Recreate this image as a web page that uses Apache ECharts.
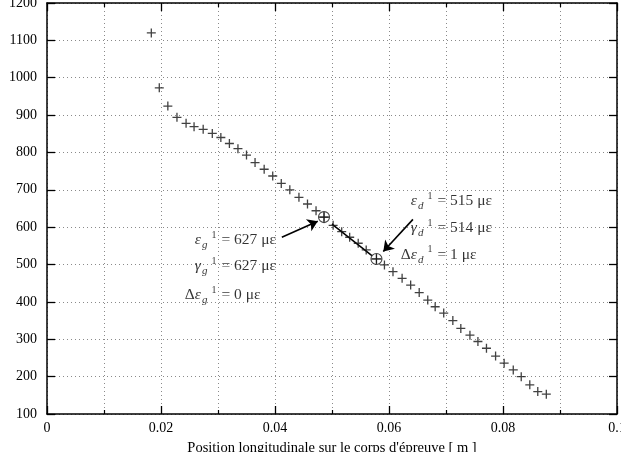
<!DOCTYPE html>
<html>
<head>
<meta charset="utf-8">
<script src="https://cdn.jsdelivr.net/npm/echarts@6/dist/echarts.min.js"></script>
<style>
  html, body { margin: 0; padding: 0; background: #fff; }
  #chart { width: 621px; height: 452px; }
</style>
</head>
<body>
<div id="chart"></div>
<script>
// position along the specimen [m] and measured strain [µε]
const position = [0.0183, 0.0197, 0.0212, 0.0228, 0.0244, 0.0258, 0.0274, 0.0290, 0.0305, 0.0320,
  0.0335, 0.0350, 0.0365, 0.0381, 0.0396, 0.0411, 0.0426, 0.0442, 0.0457, 0.0472,
  0.0486, 0.0502, 0.0517, 0.0531, 0.0546, 0.0560, 0.0578, 0.0592, 0.0607, 0.0623,
  0.0638, 0.0653, 0.0668, 0.0681, 0.0696, 0.0712, 0.0726, 0.0742, 0.0756, 0.0771,
  0.0787, 0.0802, 0.0818, 0.0832, 0.0847, 0.0861, 0.0876];
const strain = [1120, 973, 924, 894, 878, 869, 862, 851, 840, 824,
  810, 793, 773, 755, 737, 717, 700, 680, 662, 644,
  627, 605, 588, 573, 557, 539, 515, 499, 481, 463,
  445, 425, 405, 387, 370, 350, 329, 311, 294, 276,
  255, 236, 218, 200, 178, 160, 153];

// the two circled gauge points
const gaugePos = [0.0486, 0.0578];
const gaugeStrain = [627, 515];

// short segment drawn between the gauges
const segPos = [0.0500, 0.0570];
const segStrain = [608, 524];

// arrows, tail -> head
const arrowFrom = [[0.0412, 573], [0.0642, 621]];
const arrowTo = [[0.0475, 616], [0.0590, 535]];

// annotation lines, anchored at the "=" sign
const annoPos = [[0.0306, 566], [0.0306, 496], [0.0306, 418], [0.0685, 670], [0.0685, 598], [0.0685, 526]];
const annoSym = ['ε', 'γ', 'Δε', 'ε', 'γ', 'Δε'];
const annoSub = ['g', 'g', 'g', 'd', 'd', 'd'];
const annoVal = ['627', '627', '0', '515', '514', '1'];

const FONT = '"Liberation Serif", "DejaVu Serif", serif';
const INK = '#000';
const dotted = { color: '#8a8a8a', width: 1, type: [1, 3] };

const chart = echarts.init(document.getElementById('chart'));

function pairs(xs, ys) {
  return xs.map((x, i) => [x, ys[i]]);
}

const richStyle = {
  b: { fontFamily: FONT, fontSize: 15.5, color: INK },
  bi: { fontFamily: FONT, fontSize: 15.5, color: INK, fontStyle: 'italic' },
  sub: { fontFamily: FONT, fontSize: 11, color: INK, fontStyle: 'italic', padding: [10, 0, 0, 1] },
  sup: { fontFamily: FONT, fontSize: 10, color: INK, padding: [0, 0, 10, 4] }
};

const annoData = annoPos.map((p, i) => ({
  value: p, sym: annoSym[i], sub: annoSub[i], val: annoVal[i]
}));

const xAxisBase = {
  type: 'value',
  min: 0,
  max: 0.1,
  interval: 0.02,
  axisLine: { show: true, onZero: false, lineStyle: { color: INK, width: 1.5 } },
  axisTick: { show: true, inside: true, length: 8, lineStyle: { color: INK, width: 1.3 } },
  minorTick: { show: true, splitNumber: 2, length: 4, lineStyle: { color: INK, width: 1.2 } }
};
const yAxisBase = {
  type: 'value',
  min: 100,
  max: 1200,
  interval: 100,
  axisLine: { show: true, onZero: false, lineStyle: { color: INK, width: 1.5 } },
  axisTick: { show: true, inside: true, length: 8, lineStyle: { color: INK, width: 1.3 } }
};

chart.setOption({
  animation: false,
  backgroundColor: '#fff',
  grid: { left: 47, right: 4, top: 3, bottom: 38, containLabel: false, outerBoundsMode: 'none' },
  xAxis: [
    Object.assign({}, xAxisBase, {
      position: 'bottom',
      axisLabel: { color: INK, fontFamily: FONT, fontSize: 14, margin: 7, formatter: v => String(v) },
      splitLine: { show: true, lineStyle: dotted },
      minorSplitLine: { show: true, lineStyle: dotted },
      name: "Position longitudinale sur le corps d'épreuve [ m ]",
      nameLocation: 'middle',
      nameGap: 27,
      nameTextStyle: { color: INK, fontFamily: FONT, fontSize: 14.5 }
    }),
    Object.assign({}, xAxisBase, {
      position: 'top',
      axisLabel: { show: false },
      splitLine: { show: false }
    })
  ],
  yAxis: [
    Object.assign({}, yAxisBase, {
      position: 'left',
      axisLabel: { color: INK, fontFamily: FONT, fontSize: 14, margin: 10, formatter: v => String(v) },
      splitLine: { show: true, lineStyle: dotted }
    }),
    Object.assign({}, yAxisBase, {
      position: 'right',
      axisLabel: { show: false },
      splitLine: { show: false }
    })
  ],
  series: [
    {
      type: 'line',
      data: pairs(segPos, segStrain),
      showSymbol: false,
      lineStyle: { color: INK, width: 1.5 },
      silent: true,
      z: 3
    },
    {
      type: 'scatter',
      data: pairs(position, strain),
      symbol: 'path://M0,5L10,5M5,0L5,10',
      symbolSize: 9,
      itemStyle: { color: 'rgba(0,0,0,0)', borderColor: '#111', borderWidth: 1.3 },
      silent: true,
      z: 4,
      markLine: {
        silent: true,
        symbol: ['none', 'arrow'],
        symbolSize: 10,
        label: { show: false },
        itemStyle: { color: INK },
        lineStyle: { color: INK, width: 1.6, type: 'solid' },
        emphasis: { disabled: true },
        data: arrowFrom.map((p, i) => [{ coord: p }, { coord: arrowTo[i] }])
      }
    },
    {
      type: 'scatter',
      data: pairs(gaugePos, gaugeStrain),
      symbol: 'path://M0,5A5,5,0,1,1,10,5A5,5,0,1,1,0,5ZM0,5L10,5M5,0L5,10',
      symbolSize: 11,
      itemStyle: { color: 'rgba(0,0,0,0)', borderColor: '#111', borderWidth: 1.1 },
      silent: true,
      z: 5
    },
    {
      type: 'scatter',
      data: annoData,
      symbolSize: 0,
      silent: true,
      label: {
        show: true,
        position: 'left',
        distance: 5,
        formatter: p => {
          const s = p.data.sym;
          const head = s.length > 1 ? '{b|' + s.slice(0, 1) + '}{bi|' + s.slice(1) + '}' : '{bi|' + s + '}';
          return head + '{sub|' + p.data.sub + '}{sup|1}';
        },
        rich: richStyle
      }
    },
    {
      type: 'scatter',
      data: annoData,
      symbolSize: 0,
      silent: true,
      label: {
        show: true,
        position: 'right',
        distance: 0,
        formatter: p => '{b|= ' + p.data.val + ' με}',
        rich: richStyle
      }
    }
  ]
});
</script>
</body>
</html>
